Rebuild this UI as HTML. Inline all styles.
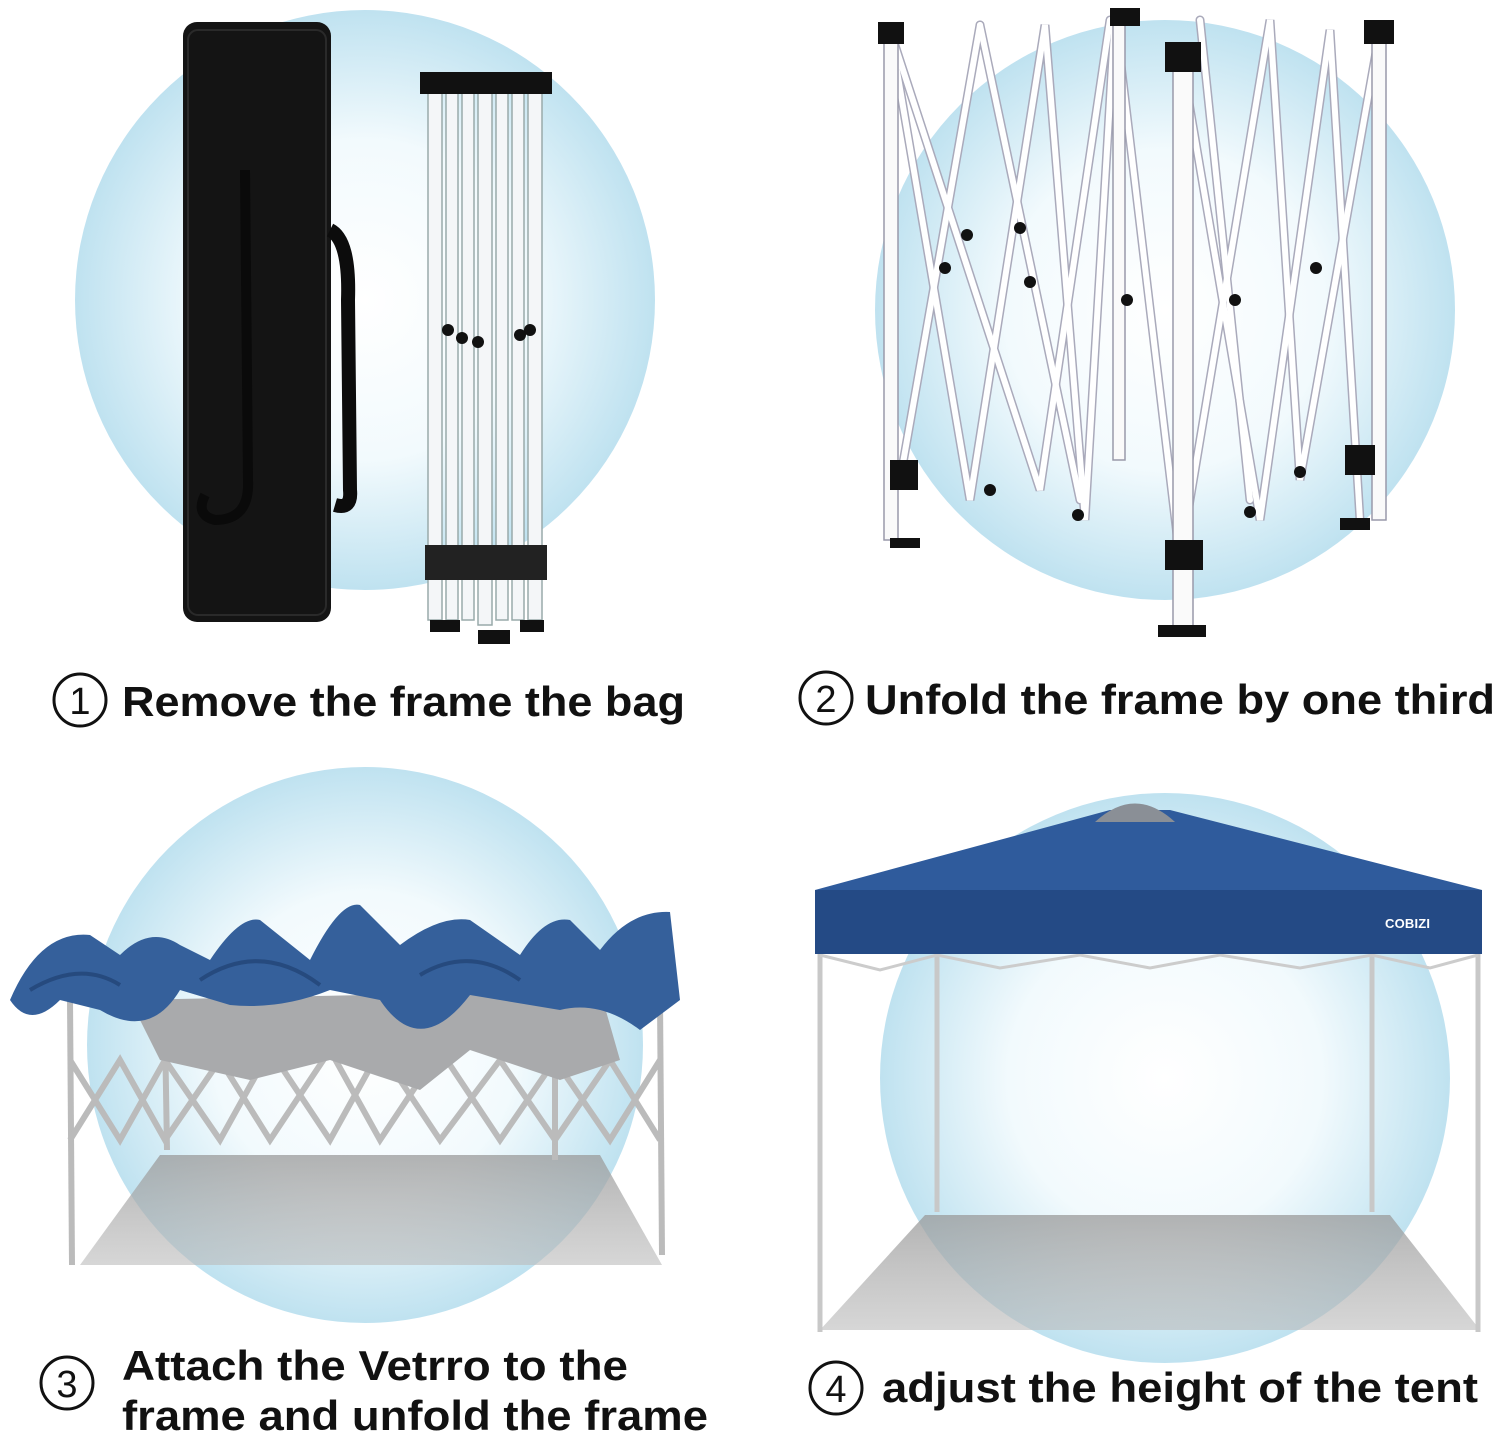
<!DOCTYPE html>
<html><head><meta charset="utf-8"><style>
html,body{margin:0;padding:0;background:#fff;width:1500px;height:1439px;overflow:hidden}
svg{display:block}
text{font-family:"Liberation Sans",sans-serif;font-weight:bold;fill:#111}
</style></head><body>
<svg width="1500" height="1439" viewBox="0 0 1500 1439" xmlns="http://www.w3.org/2000/svg">
<defs>
<radialGradient id="g" cx="50%" cy="50%" r="50%">
<stop offset="0" stop-color="#ffffff"/><stop offset="0.55" stop-color="#f2fafd"/><stop offset="1" stop-color="#bfe2f0"/>
</radialGradient>
<linearGradient id="sh" x1="0" y1="0" x2="0" y2="1"><stop offset="0" stop-color="#9a9a9a" stop-opacity=".75"/><stop offset="1" stop-color="#bbb" stop-opacity=".6"/></linearGradient>
</defs>
<!-- circles -->
<circle cx="365" cy="300" r="290" fill="url(#g)"/>
<circle cx="1165" cy="310" r="290" fill="url(#g)"/>
<circle cx="365" cy="1045" r="278" fill="url(#g)"/>
<circle cx="1165" cy="1078" r="285" fill="url(#g)"/>

<!-- Q1 bag -->
<rect x="183" y="22" width="148" height="600" rx="14" fill="#141414"/>
<rect x="188" y="30" width="138" height="585" rx="10" fill="none" stroke="#2a2a2a" stroke-width="2"/>
<path d="M330 230 Q350 240 348 300 L350 490 Q352 510 335 505" stroke="#0c0c0c" stroke-width="14" fill="none"/>
<path d="M245 170 L248 480 Q250 520 215 520 Q195 515 205 495" stroke="#0a0a0a" stroke-width="10" fill="none"/>
<!-- Q1 frame -->
<g stroke="#9aa" stroke-width="1.5" fill="#f4f6f8">
<rect x="428" y="80" width="14" height="540"/><rect x="446" y="80" width="12" height="540"/>
<rect x="462" y="80" width="12" height="540"/><rect x="478" y="80" width="14" height="545"/>
<rect x="496" y="80" width="12" height="540"/><rect x="512" y="80" width="12" height="540"/>
<rect x="528" y="80" width="14" height="540"/>
</g>
<rect x="420" y="72" width="132" height="22" fill="#111"/>
<rect x="425" y="545" width="122" height="35" fill="#222"/>
<g fill="#111"><circle cx="448" cy="330" r="6"/><circle cx="462" cy="338" r="6"/><circle cx="478" cy="342" r="6"/><circle cx="520" cy="335" r="6"/><circle cx="530" cy="330" r="6"/>
<rect x="430" y="620" width="30" height="12"/><rect x="478" y="630" width="32" height="14"/><rect x="520" y="620" width="24" height="12"/></g>

<!-- Q2 scissor frame -->
<g stroke="#aab" stroke-width="9" fill="none" stroke-linecap="round">
<polyline points="890,30 970,500 1045,25 1085,520 1115,15 1180,560"/>
<polyline points="980,25 900,480"/>
<polyline points="890,30 1040,490 1110,20"/>
<polyline points="1180,50 1260,520 1330,30 1360,520"/>
<polyline points="1380,30 1300,480 1270,20 1180,560"/>
<polyline points="1200,20 1250,500"/>
<polyline points="980,25 1080,500"/>
</g>
<g stroke="#fff" stroke-width="6" fill="none" stroke-linecap="round">
<polyline points="890,30 970,500 1045,25 1085,520 1115,15 1180,560"/>
<polyline points="980,25 900,480"/>
<polyline points="890,30 1040,490 1110,20"/>
<polyline points="1180,50 1260,520 1330,30 1360,520"/>
<polyline points="1380,30 1300,480 1270,20 1180,560"/>
<polyline points="1200,20 1250,500"/>
<polyline points="980,25 1080,500"/>
</g>
<g stroke="#99a" stroke-width="1.5" fill="#fafafa">
<rect x="884" y="30" width="14" height="510"/><rect x="1173" y="50" width="20" height="580"/>
<rect x="1372" y="30" width="14" height="490"/><rect x="1113" y="20" width="12" height="440"/>
</g>
<g fill="#111"><rect x="878" y="22" width="26" height="22"/><rect x="1165" y="42" width="36" height="30"/><rect x="1364" y="20" width="30" height="24"/><rect x="1110" y="8" width="30" height="18"/>
<rect x="890" y="460" width="28" height="30"/><rect x="1165" y="540" width="38" height="30"/><rect x="1345" y="445" width="30" height="30"/>
<rect x="890" y="538" width="30" height="10"/><rect x="1158" y="625" width="48" height="12"/><rect x="1340" y="518" width="30" height="12"/>
<circle cx="945" cy="268" r="6"/><circle cx="1030" cy="282" r="6"/><circle cx="1127" cy="300" r="6"/><circle cx="1235" cy="300" r="6"/><circle cx="1316" cy="268" r="6"/><circle cx="990" cy="490" r="6"/><circle cx="1078" cy="515" r="6"/><circle cx="1250" cy="512" r="6"/><circle cx="1300" cy="472" r="6"/><circle cx="967" cy="235" r="6"/><circle cx="1020" cy="228" r="6"/></g>

<!-- Q3 -->
<polygon points="80,1265 160,1155 600,1155 662,1265" fill="url(#sh)"/>
<g stroke="#bbb" stroke-width="6" fill="none">
<line x1="70" y1="1000" x2="72" y2="1265"/><line x1="165" y1="1030" x2="167" y2="1150"/><line x1="555" y1="1030" x2="555" y2="1160"/><line x1="660" y1="1000" x2="662" y2="1255"/>
<polyline points="70,1060 120,1140 165,1060 220,1140 270,1050 330,1140 380,1050 440,1140 500,1060 555,1140 610,1060 660,1140"/>
<polyline points="70,1140 120,1060 165,1140 220,1060 270,1140 330,1050 380,1140 440,1050 500,1140 555,1060 610,1140 660,1060"/>
</g>
<path d="M130 1000 L600 990 L620 1060 L560 1080 L470 1050 L420 1090 L330 1060 L250 1080 L160 1060 Z" fill="#a9aaac"/>
<path d="M10 1000 Q40 930 90 935 L120 955 Q150 925 180 945 L210 960 Q240 915 260 920 L310 960 Q340 900 360 905 L400 945 Q440 915 470 920 L520 955 Q545 915 570 920 L600 950 Q630 910 670 912 L680 1000 L640 1030 Q600 1000 560 1010 L470 995 Q420 1060 380 1000 L330 990 Q280 1010 230 1005 L180 990 Q150 1040 100 1010 L60 1000 Q30 1030 10 1000 Z" fill="#35609b"/>
<path d="M30 990 Q80 960 120 985 M200 980 Q260 940 320 985 M420 975 Q470 945 520 980" stroke="#264a7e" stroke-width="4" fill="none"/>

<!-- Q4 -->
<polygon points="820,1330 925,1215 1390,1215 1480,1330" fill="url(#sh)"/>
<g stroke="#c8c8c8" stroke-width="5"><line x1="820" y1="950" x2="820" y2="1332"/><line x1="937" y1="950" x2="937" y2="1212"/><line x1="1372" y1="950" x2="1372" y2="1212"/><line x1="1478" y1="950" x2="1478" y2="1332"/></g>
<polyline points="820,955 880,970 937,955 1000,968 1080,955 1150,968 1220,955 1300,968 1372,955 1430,968 1478,955" stroke="#ccc" stroke-width="3" fill="none"/>
<polygon points="815,890 1110,810 1170,810 1482,890" fill="#2f5b9c"/>
<path d="M1095 822 Q1135 785 1175 822 Z" fill="#8a8f96"/>
<rect x="815" y="890" width="667" height="64" fill="#244a85"/>
<text x="1385" y="928" style="font-size:13px;fill:#fff" textLength="45">COBIZI</text>

<!-- captions -->
<g fill="none" stroke="#111" stroke-width="3">
<circle cx="80" cy="700" r="26"/><circle cx="826" cy="698" r="26"/><circle cx="67" cy="1383" r="26"/><circle cx="836" cy="1388" r="26"/>
</g>
<g style="font-weight:normal">
<text x="80" y="714" text-anchor="middle" style="font-size:38px;font-weight:normal">1</text>
<text x="826" y="712" text-anchor="middle" style="font-size:38px;font-weight:normal">2</text>
<text x="67" y="1397" text-anchor="middle" style="font-size:38px;font-weight:normal">3</text>
<text x="836" y="1402" text-anchor="middle" style="font-size:38px;font-weight:normal">4</text>
</g>
<text x="122" y="716" style="font-size:42px" textLength="563" lengthAdjust="spacingAndGlyphs">Remove the frame the bag</text>
<text x="865" y="714" style="font-size:42px" textLength="630" lengthAdjust="spacingAndGlyphs">Unfold the frame by one third</text>
<text x="122" y="1380" style="font-size:42px" textLength="506" lengthAdjust="spacingAndGlyphs">Attach the Vetrro to the</text>
<text x="122" y="1430" style="font-size:42px" textLength="586" lengthAdjust="spacingAndGlyphs">frame and unfold the frame</text>
<text x="882" y="1402" style="font-size:42px" textLength="596" lengthAdjust="spacingAndGlyphs">adjust the height of the tent</text>
</svg>
</body></html>
